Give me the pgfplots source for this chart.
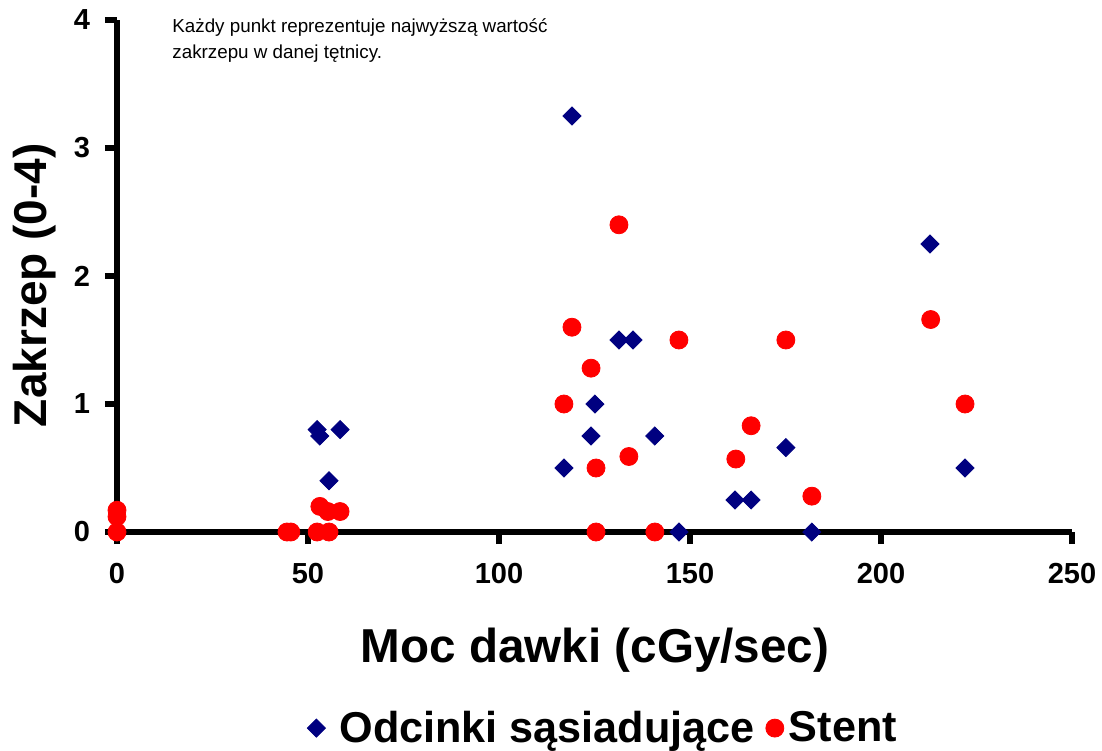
\documentclass[border=0pt]{standalone}
\usepackage{pgfplots}
\pgfplotsset{compat=1.18}
\usepackage{fontspec}
\setmainfont{Liberation Sans}
\definecolor{navyb}{RGB}{0,0,128}
\definecolor{redc}{RGB}{255,0,0}
\begin{document}
\begin{tikzpicture}
\useasboundingbox (-58.5pt,-109pt) rectangle (492.5pt,266pt);
\begin{axis}[
  scale only axis, width=477.5pt, height=256pt,
  at={(0,0)}, anchor=south west,
  xmin=0, xmax=250, ymin=0, ymax=4,
  clip=false,
  axis lines*=left,
  axis line style={-, line width=2.7pt, black},
  xtick={0,50,100,150,200,250},
  ytick={0,1,2,3,4},
  tick align=outside,
  major tick length=6pt,
  every tick/.style={line width=2.7pt, black},
  /pgf/number format/assume math mode=true,
  tick label style={font=\fontsize{14.5}{16}\selectfont\bfseries},
  xticklabel style={yshift=-6pt},
  yticklabel style={xshift=-4pt},
  every axis y label/.style={at={(rel axis cs:-0.0859,0.482)}, rotate=90, anchor=center},
  every axis x label/.style={at={(rel axis cs:0.5005,-0.2305)}, anchor=center},
  ylabel={\fontsize{23}{27}\selectfont\bfseries Zakrzep (0-4)},
  xlabel={\fontsize{23.8}{27}\selectfont\bfseries Moc dawki (cGy/sec)},
  legend image code/.code={\draw[#1] plot coordinates {(0pt,0pt)};},
  legend style={at={(rel axis cs:0.509,-0.383)}, anchor=center, draw=none, fill=none,
    legend columns=2, font=\fontsize{21.6}{25}\selectfont\bfseries,
    nodes={inner xsep=1pt},
    /tikz/column 1/.style={column sep=6pt},
    /tikz/column 2/.style={column sep=4.5pt},
    /tikz/column 3/.style={column sep=1.5pt}},
]
\addplot[only marks, mark=square*, mark size=3.2pt, mark options={rotate=45, fill=navyb, draw=navyb}]
coordinates {
(119.1,3.25) (212.8,2.25) (131.4,1.5) (135.1,1.5) (125.1,1.0)
(52.4,0.8) (53.1,0.75) (58.4,0.8) (55.5,0.4)
(124.1,0.75) (140.8,0.75) (117.0,0.5) (175.1,0.66)
(161.8,0.25) (166.0,0.25) (222,0.5) (147.1,0) (181.9,0)
};
\addlegendentry{Odcinki sąsiadujące}
\addplot[only marks, mark=*, mark size=4.5pt, mark options={fill=redc, draw=redc}]
coordinates {
(0,0.17) (0,0.12) (0,0)
(44.5,0) (45.5,0) (52.4,0) (55.5,0)
(53.1,0.2) (55.2,0.16) (58.4,0.16)
(119.1,1.6) (131.4,2.4) (147.1,1.5) (124.1,1.28) (117.0,1.0)
(134.0,0.59) (125.4,0.5) (125.4,0) (140.8,0)
(175.1,1.5) (166,0.83) (162,0.57) (181.9,0.28) (213,1.66) (222,1.0)
};
\addlegendentry{Stent}
\node[anchor=north west, inner sep=0pt, align=left, font=\fontsize{9.4}{13}\selectfont]
  at (rel axis cs:0,1) [xshift=27.5pt, yshift=1pt]
  {Każdy punkt reprezentuje najwyższą wartość\\zakrzepu w danej tętnicy.};
\end{axis}
\end{tikzpicture}
\end{document}
